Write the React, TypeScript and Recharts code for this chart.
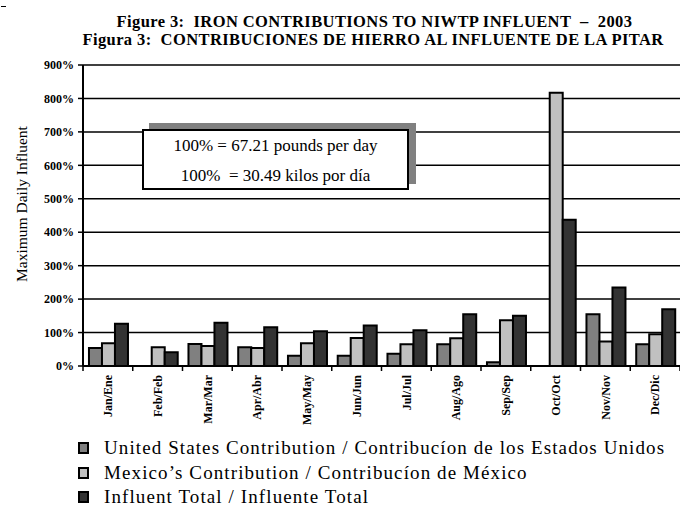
import { BarChart, Bar, XAxis, YAxis, CartesianGrid } from 'recharts'

const MONTHS = ['Jan/Ene', 'Feb/Feb', 'Mar/Mar', 'Apr/Abr', 'May/May', 'Jun/Jun',
  'Jul/Jul', 'Aug/Ago', 'Sep/Sep', 'Oct/Oct', 'Nov/Nov', 'Dec/Dic']

// percent of 100% = 67.21 lb/day
const US_CONTRIB = [54, 0, 66, 56, 31, 31, 37, 65, 11, 0, 155, 65]
const MX_CONTRIB = [68, 56, 60, 54, 68, 84, 65, 83, 137, 817, 73, 95]
const INFLUENT_TOTAL = [126, 41, 129, 116, 104, 121, 107, 155, 150, 437, 235, 170]

const Y_TICKS = [0, 100, 200, 300, 400, 500, 600, 700, 800, 900]

const SERIES = [
  { key: 'us', name: 'United States Contribution / Contribucíon de los Estados Unidos', color: '#808080' },
  { key: 'mx', name: 'Mexico\u2019s Contribution / Contribucíon de México', color: '#c0c0c0' },
  { key: 'total', name: 'Influent Total / Influente Total', color: '#333333' },
]

const data = MONTHS.map((month, i) => ({
  month,
  us: US_CONTRIB[i],
  mx: MX_CONTRIB[i],
  total: INFLUENT_TOTAL[i],
}))

const serif = '"Liberation Serif", "Times New Roman", serif'

function MonthTick(props: any) {
  const { x, y, payload, index, visibleTicksCount } = props
  const half = payload?.offset ?? 0
  const axisY = y - 9
  return (
    <g>
      <line x1={x - half} x2={x - half} y1={axisY} y2={axisY + 5} stroke="#000" strokeWidth={1.5} />
      {index === visibleTicksCount - 1 && (
        <line x1={x + half} x2={x + half} y1={axisY} y2={axisY + 5} stroke="#000" strokeWidth={1.5} />
      )}
      <text x={x} y={y} transform={`rotate(-90 ${x} ${y})`} textAnchor="end" dy="0.35em"
        fontFamily={serif} fontWeight="bold" fontSize={12} fill="#000">
        {payload.value}
      </text>
    </g>
  )
}

export default function App() {
  return (
    <div style={{ position: 'absolute', left: 0, top: 0, width: 680, height: 516, background: '#fff', fontFamily: serif }}>
      <div style={{ position: 'absolute', left: 1, top: 6, width: 5, height: 1, background: '#000' }} />

      <div style={{ position: 'absolute', left: 73, top: 13, width: 600, textAlign: 'center', fontWeight: 'bold', fontSize: 16.5, letterSpacing: 0.4, lineHeight: '17.5px', whiteSpace: 'nowrap' }}>
        <div style={{ paddingLeft: 3 }}>Figure 3:&nbsp; IRON CONTRIBUTIONS TO NIWTP INFLUENT &nbsp;–&nbsp; 2003</div>
        <div>Figura 3:&nbsp; CONTRIBUCIONES DE HIERRO AL INFLUENTE DE LA PITAR</div>
      </div>

      <BarChart width={680} height={516} data={data}
        margin={{ top: 65, right: 0, bottom: 90, left: 0 }}
        barCategoryGap="12%" barGap={0}>
        <CartesianGrid vertical={false} stroke="#000" strokeWidth={1.5} />
        <XAxis dataKey="month" interval={0} height={60} tickSize={5} tickMargin={4}
          axisLine={{ stroke: '#000', strokeWidth: 2 }} tickLine={false} tick={<MonthTick />} />
        <YAxis width={83} domain={[0, 900]} ticks={Y_TICKS} interval={0}
          tickFormatter={(v) => `${v}%`} tickSize={5} tickMargin={4}
          axisLine={{ stroke: '#000', strokeWidth: 2 }} tickLine={{ stroke: '#000', strokeWidth: 1.5 }}
          tick={{ fontFamily: serif, fontWeight: 'bold', fontSize: 12, fill: '#000' }} />
        {SERIES.map(s => (
          <Bar key={s.key} dataKey={s.key} name={s.name} fill={s.color}
            stroke="#000" strokeWidth={2} isAnimationActive={false} />
        ))}
      </BarChart>

      {/* axis title */}
      <div style={{ position: 'absolute', left: 22, top: 204, transform: 'translate(-50%, -50%) rotate(-90deg)', whiteSpace: 'nowrap', fontSize: 15.5 }}>
        Maximum Daily Influent
      </div>

      {/* conversion note */}
      <div style={{ position: 'absolute', left: 142, top: 129, width: 263, height: 57, border: '2px solid #000', background: '#fff', boxShadow: '7px -6px 0 #808080', textAlign: 'center', fontSize: 17, lineHeight: '30px' }}>
        <div>100% = 67.21 pounds per day</div>
        <div>100% &nbsp;= 30.49 kilos por día</div>
      </div>

      {/* legend */}
      <div style={{ position: 'absolute', left: 78, top: 436 }}>
        {SERIES.map(s => (
          <div key={s.key} style={{ display: 'flex', alignItems: 'center', height: 24.5, fontSize: 19, letterSpacing: 1.1, whiteSpace: 'nowrap' }}>
            <span style={{ display: 'inline-block', width: 7, height: 8, border: '2px solid #000', background: s.color, marginRight: 15 }} />
            {s.name}
          </div>
        ))}
      </div>
    </div>
  )
}
